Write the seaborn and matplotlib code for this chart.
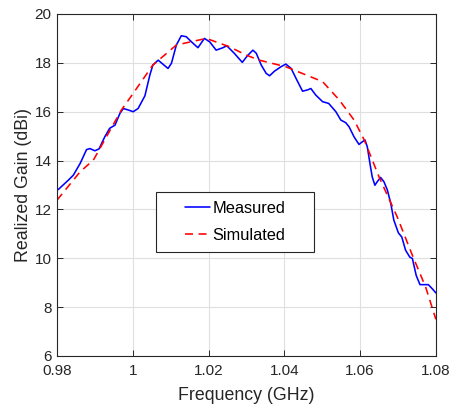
import matplotlib
matplotlib.use("Agg")
import matplotlib.pyplot as plt
from matplotlib.legend_handler import HandlerLine2D
import seaborn as sns
import pandas as pd

# Measured realized gain
meas_freq = [0.9803, 0.9830, 0.9843, 0.9861, 0.9878, 0.9887, 0.9900, 0.9911, 0.9926,
             0.9939, 0.9953, 0.9966, 0.9975, 0.9988, 1.0001, 1.0014, 1.0032, 1.0045,
             1.0053, 1.0067, 1.0080, 1.0093, 1.0102, 1.0115, 1.0128, 1.0141, 1.0159,
             1.0172, 1.0189, 1.0203, 1.0220, 1.0238, 1.0248, 1.0268, 1.0289, 1.0303,
             1.0317, 1.0326, 1.0339, 1.0352, 1.0361, 1.0374, 1.0391, 1.0404, 1.0418,
             1.0431, 1.0448, 1.0461, 1.0470, 1.0483, 1.0501, 1.0517, 1.0536, 1.0549,
             1.0562, 1.0571, 1.0584, 1.0597, 1.0606, 1.0613, 1.0619, 1.0626, 1.0632,
             1.0639, 1.0645, 1.0654, 1.0663, 1.0672, 1.0681, 1.0689, 1.0701, 1.0710,
             1.0720, 1.0731, 1.0738, 1.0748, 1.0758, 1.0768, 1.0780, 1.0790, 1.0800]
meas_gain = [12.81, 13.20, 13.40, 13.88, 14.45, 14.49, 14.40, 14.48, 14.97,
             15.32, 15.45, 15.93, 16.13, 16.07, 16.00, 16.13, 16.65, 17.50,
             17.91, 18.11, 17.94, 17.77, 17.98, 18.73, 19.11, 19.07, 18.80,
             18.62, 19.00, 18.86, 18.52, 18.62, 18.70, 18.39, 18.02, 18.30,
             18.52, 18.39, 17.91, 17.57, 17.47, 17.66, 17.84, 17.95, 17.77,
             17.36, 16.84, 16.89, 16.95, 16.68, 16.41, 16.34, 16.00, 15.66,
             15.55, 15.38, 14.97, 14.66, 14.77, 14.84, 14.56, 13.88, 13.33,
             12.99, 13.13, 13.31, 13.13, 12.79, 12.24, 11.56, 11.04, 10.87,
             10.33, 10.05, 9.99, 9.30, 8.92, 8.92, 8.92, 8.76, 8.58]

# Simulated realized gain
sim_freq = [0.9800, 0.9861, 0.9896, 0.9970, 1.0001, 1.0053, 1.0115, 1.0194, 1.0255,
            1.0299, 1.0334, 1.0404, 1.0501, 1.0545, 1.0584, 1.0611, 1.0650, 1.0698,
            1.0738, 1.0773, 1.0800]
sim_gain = [12.38, 13.54, 14.02, 16.07, 16.75, 17.91, 18.73, 19.00, 18.66,
            18.32, 18.11, 17.84, 17.23, 16.48, 15.66, 14.84, 13.33, 11.69,
            10.12, 8.82, 7.50]

x_ticks = [0.98, 1.00, 1.02, 1.04, 1.06, 1.08]
x_tick_labels = ["0.98", "1", "1.02", "1.04", "1.06", "1.08"]
y_ticks = [6, 8, 10, 12, 14, 16, 18, 20]

sns.set_style("whitegrid")
plt.rcParams["font.family"] = ["Liberation Sans", "DejaVu Sans"]

fig = plt.figure(figsize=(4.55, 4.08), dpi=100)
ax = fig.add_axes([0.1253, 0.1275, 0.8327, 0.8382])

meas = pd.DataFrame({"f": meas_freq, "g": meas_gain})
sim = pd.DataFrame({"f": sim_freq, "g": sim_gain})

sns.lineplot(data=meas, x="f", y="g", ax=ax, color="#0000ff", lw=1.15,
             label="Measured", sort=False)
sns.lineplot(data=sim, x="f", y="g", ax=ax, color="#ff0000", lw=1.15,
             label="Simulated", sort=False)
ax.lines[0].set_solid_joinstyle("round")
ax.lines[1].set_linestyle((0, (5, 3.5)))

ax.set_xlim(0.98, 1.08)
ax.set_ylim(6, 20)
ax.set_xticks(x_ticks)
ax.set_xticklabels(x_tick_labels)
ax.set_yticks(y_ticks)
ax.grid(True, color="#dfdfdf", lw=0.8)
ax.set_axisbelow(True)
for s in ax.spines.values():
    s.set_color("#262626")
    s.set_linewidth(0.8)
ax.tick_params(direction="in", length=4, width=0.7, color="#262626",
               labelsize=11, labelcolor="#262626", top=True, right=True,
               bottom=True, left=True)
ax.tick_params(axis="x", pad=6)
ax.tick_params(axis="y", pad=4)
ax.set_xlabel("Frequency (GHz)", fontsize=12.8, color="#262626", labelpad=6)
ax.set_ylabel("Realized Gain (dBi)", fontsize=12.8, color="#262626", labelpad=2)

# Legend box with wide side margins; the handle line sits at the right of its slot
handles, labels = ax.get_legend_handles_labels()
leg = ax.legend(handles, labels, loc="upper left",
                bbox_to_anchor=(0.2604, 0.308, 0.4182, 0.172), mode="expand",
                fontsize=11.8, frameon=True, fancybox=False,
                edgecolor="#262626", handlelength=2.75, borderpad=0.55,
                labelspacing=0.75, handletextpad=0.18, borderaxespad=0,
                handler_map={h: HandlerLine2D(xpad=1.22) for h in handles})
leg.get_frame().set_linewidth(0.8)
leg.get_frame().set_alpha(1)
for t in leg.get_texts():
    t.set_color("#000000")

fig.savefig("out.png", dpi=100)
